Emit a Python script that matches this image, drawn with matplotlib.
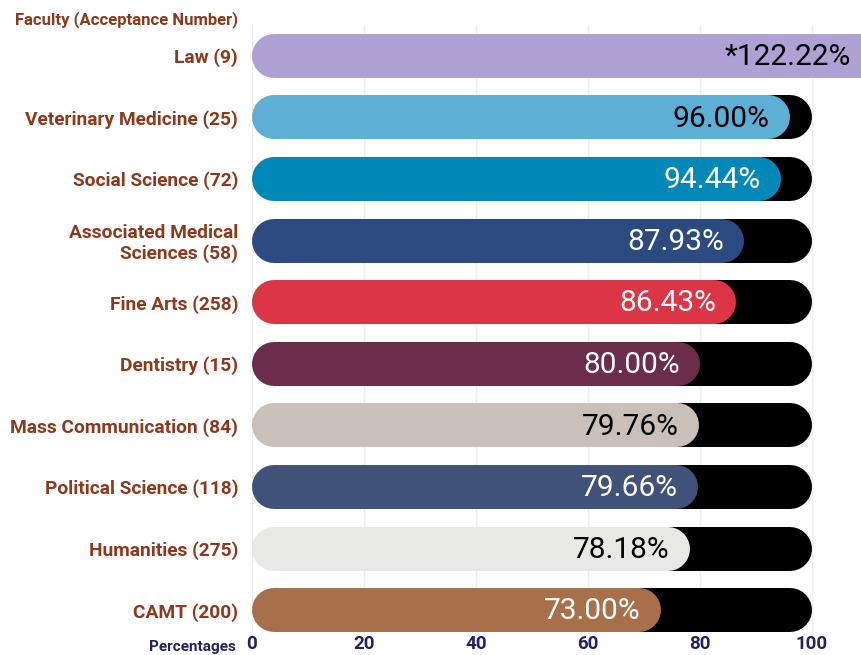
import matplotlib.pyplot as plt
import numpy as np

faculties = ['Law (9)', 'Veterinary Medicine (25)', 'Social Science (72)',
             'Associated Medical\nSciences (58)', 'Fine Arts (258)', 'Dentistry (15)',
             'Mass Communication (84)', 'Political Science (118)', 'Humanities (275)',
             'CAMT (200)']
values = [122.22, 96.00, 94.44, 87.93, 86.43, 80.00, 79.76, 79.66, 78.18, 73.00]
value_labels = ['*122.22%', '96.00%', '94.44%', '87.93%', '86.43%', '80.00%',
                '79.76%', '79.66%', '78.18%', '73.00%']
bar_colors = ['#b0a1d5', '#5eafd6', '#0089b8', '#2a4a80', '#dc3545', '#6b2d4b',
              '#c9c0b9', '#415278', '#e8e8e6', '#a8704a']
text_colors = ['black', 'black', 'white', 'white', 'white', 'white',
               'black', 'white', 'black', 'white']
xticks = [0, 20, 40, 60, 80, 100]

plt.rcParams['font.family'] = ['Roboto', 'DejaVu Sans']

W, H, dpi = 861, 655, 100
fig = plt.figure(figsize=(W / dpi, H / dpi), dpi=dpi)

# axes in pixel terms
left_px, right_px = 252, 861
top_px, bot_px = 25, 641
ax = fig.add_axes([left_px / W, 1 - bot_px / H, (right_px - left_px) / W, (bot_px - top_px) / H])

px_per_unit = 5.6
xmax = (right_px - left_px) / px_per_unit
ax.set_xlim(0, xmax)
n = len(faculties)
ax.set_ylim(n - 0.5, -0.5)

bar_px = 44
lw = bar_px * 72 / dpi
r = (bar_px / 2) / px_per_unit

for x in xticks:
    ax.axvline(x, color='#eeeeee', lw=1, zorder=0)

for i, (v, c, tc, lab) in enumerate(zip(values, bar_colors, text_colors, value_labels)):
    # black track behind, starts under the coloured bar so its left cap stays hidden
    ax.plot([40, 100 - r], [i, i], color='black', lw=lw, solid_capstyle='round', zorder=2)
    ax.plot([r, v - r], [i, i], color=c, lw=lw, solid_capstyle='round', zorder=3)
    tx = min(v, xmax) - 1.8 if v > 100 else v - 3.6
    ax.text(tx, i + 0.02, lab, ha='right', va='center', color=tc, fontsize=21.5, zorder=4)

ax.set_yticks(range(n))
ax.set_yticklabels(faculties, fontsize=13.8, fontweight='bold', color='#8b3a1e',
                   linespacing=1.1)
for t in ax.get_yticklabels():
    t.set_ha('right')
ax.tick_params(axis='y', length=0, pad=10)
ax.set_xticks(xticks)
ax.set_xticklabels([str(x) for x in xticks], fontsize=13.5, fontweight='bold', color='#23235e')
ax.tick_params(axis='x', length=0, pad=-4)
for s in ax.spines.values():
    s.set_visible(False)

fig.text(238 / W, 1 - 20 / H, 'Faculty (Acceptance Number)', ha='right', va='center',
         fontsize=12, fontweight='bold', color='#8b3a1e')
fig.text(236 / W, 1 - 647 / H, 'Percentages', ha='right', va='center',
         fontsize=11, fontweight='bold', color='#23235e')

fig.savefig('out.png', dpi=dpi)
